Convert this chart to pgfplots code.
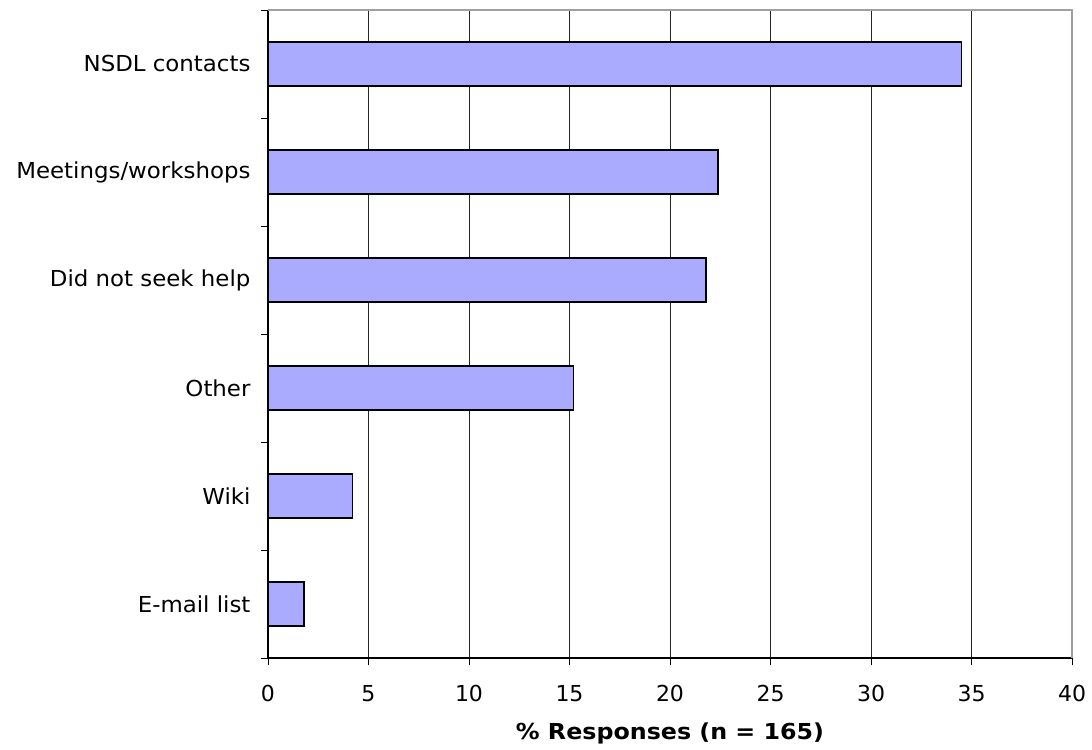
\documentclass[border=0pt]{standalone}
\usepackage{pgfplots}
\pgfplotsset{compat=1.18}
\usepackage{fontspec}
\setmainfont{DejaVu Sans}
\newfontfamily\catfont{DejaVu Sans}[FakeStretch=1.04]
\newfontfamily\labelfont{DejaVu Sans Bold}[FakeStretch=1.08]
\definecolor{barfill}{HTML}{AAAAFF}
\definecolor{framegray}{HTML}{A0A0A0}
\newcommand\chartfont{\fontsize{22bp}{26bp}\selectfont}
\begin{document}
\chartfont
\begin{tikzpicture}[x=1bp,y=1bp]
\path[use as bounding box] (-268,-92) rectangle (824,658);
\begin{axis}[
  at={(0,0)}, anchor=south west,
  scale only axis,
  width=804bp, height=648bp,
  xmin=0, xmax=40,
  ymin=-0.5, ymax=5.5,
  xtick={0,5,...,40},
  % tick marks sit on the boundaries between categories
  ytick={-0.5,0.5,1.5,2.5,3.5,4.5,5.5},
  yticklabels={},
  % category names sit at the bar centres
  extra y ticks={0,1,2,3,4,5},
  extra y tick labels={E-mail list,Wiki,Other,Did not seek help,Meetings/workshops,NSDL contacts},
  extra y tick style={major tick length=0bp, grid=none},
  xmajorgrids,
  grid style={black!85, line width=0.8bp},
  axis x line*=bottom,
  axis y line*=left,
  axis line style={black, line width=1.3bp},
  tick style={black, line width=0.8bp},
  major tick length=7bp,
  tick align=outside,
  xtick pos=bottom, ytick pos=left,
  yticklabel style={font=\catfont\chartfont, xshift=-10bp},
  xticklabel style={font=\chartfont, yshift=-13bp},
  /pgf/number format/assume math mode=true,
  xlabel={\% Responses (n = 165)},
  xlabel style={font=\labelfont\chartfont, yshift=-6bp},
  xbar,
  bar width=44bp,
  clip=false,
]
% frame on the top and right sides
\draw[framegray, line width=1.2bp] (rel axis cs:0,1) -- (rel axis cs:1,1) -- (rel axis cs:1,0);
\addplot[fill=barfill, draw=black, line width=1.5bp] coordinates {
  (1.8,0) (4.2,1) (15.2,2) (21.8,3) (22.4,4) (34.5,5)
};
\end{axis}
\end{tikzpicture}
\end{document}
